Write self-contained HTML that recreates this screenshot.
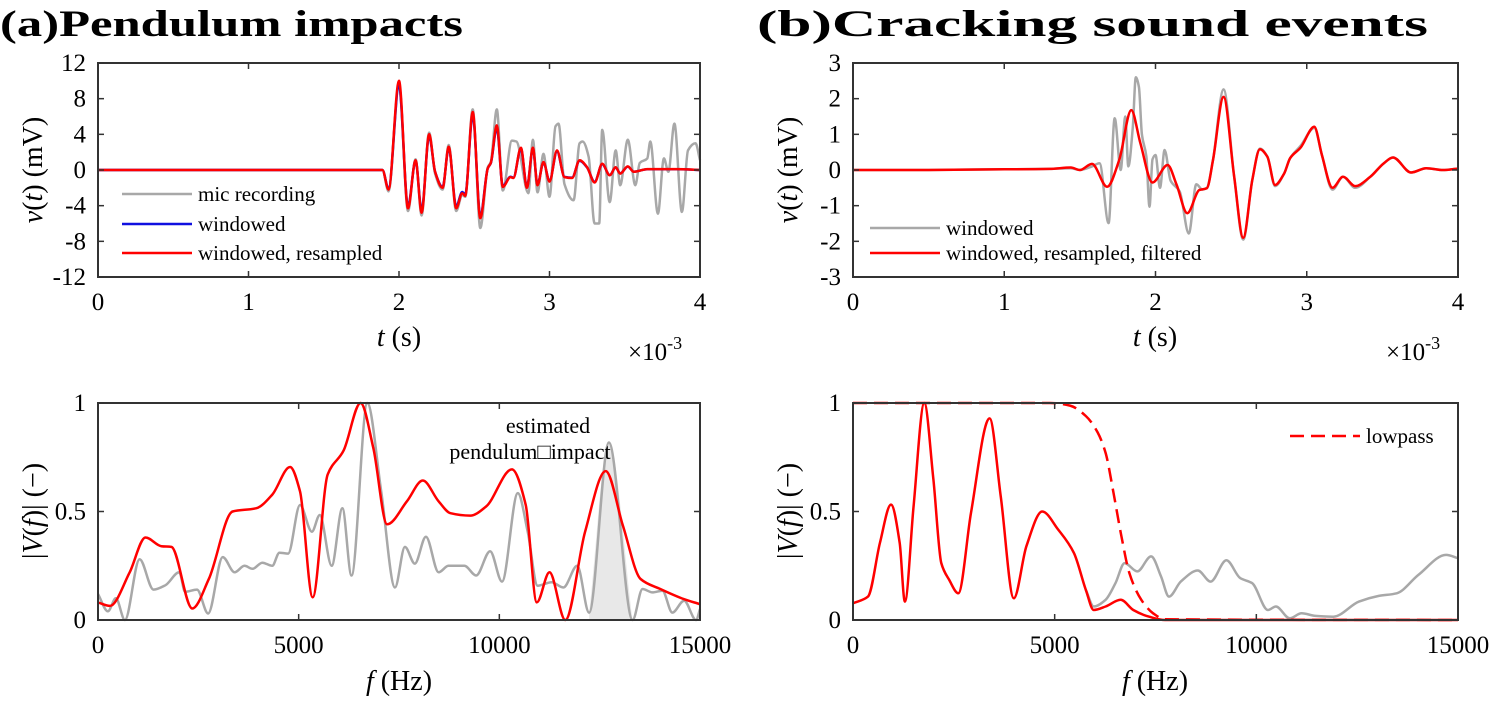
<!DOCTYPE html>
<html><head><meta charset="utf-8">
<style>
body{margin:0;background:#fff;}
svg{display:block;font-family:"Liberation Serif",serif;}
</style></head>
<body>
<svg id="fig" width="1494" height="701" viewBox="0 0 1494 701" xmlns="http://www.w3.org/2000/svg">
<text x="0" y="36" font-size="37" font-weight="bold" textLength="463" lengthAdjust="spacingAndGlyphs">(a)Pendulum impacts</text>
<text x="757" y="36" font-size="37" font-weight="bold" textLength="671" lengthAdjust="spacingAndGlyphs">(b)Cracking sound events</text>
</svg>
<script>
// ---------- Data ----------
const aTopTicksY=[12,8,4,0,-4,-8,-12];
const aTopTicksYLabels=["12","8","4","0","-4","-8","-12"];
const bTopTicksY=[3,2,1,0,-1,-2,-3];
const timeTicks=[0,1,2,3,4];
const freqTicks=[0,5000,10000,15000];
const magTicks=[0,0.5,1];
const magTickLabels=["0","0.5","1"];

const aRedT=[0,1.89,1.93,2.0,2.06,2.11,2.15,2.2,2.24,2.29,2.33,2.38,2.42,2.44,2.49,2.54,2.59,2.61,2.65,2.69,2.74,2.76,2.81,2.85,2.89,2.92,2.96,3.0,3.05,3.1,3.15,3.2,3.25,3.3,3.35,3.4,3.44,3.47,3.52,3.56,3.65,3.75,3.85,4.0];
const aRedV=[0,0,-2.2,10,-4.3,1.1,-4.8,4.0,-0.2,-2.0,2.6,-4.3,-2.6,-2.9,6.5,-5.4,0.2,0.8,5.0,-1.9,-0.8,-0.9,2.5,-2.0,2.5,-1.7,0.9,-1.3,2.2,-0.8,-0.9,1.1,0.3,-1.4,0.7,-0.6,0.3,-0.4,0.4,-0.2,0.1,0.1,0.1,0];
const aMicT=[0,1.89,1.93,2.0,2.06,2.11,2.15,2.2,2.24,2.29,2.33,2.38,2.42,2.44,2.49,2.54,2.59,2.61,2.65,2.69,2.75,2.78,2.86,2.89,2.92,2.96,3.0,3.04,3.06,3.1,3.16,3.2,3.22,3.26,3.3,3.33,3.35,3.4,3.44,3.47,3.52,3.57,3.6,3.65,3.67,3.72,3.76,3.79,3.83,3.88,3.92,3.97,4.0];
const aMicV=[0,0,-2.4,9.5,-4.6,1.2,-5.1,4.2,-0.4,-2.2,2.8,-4.6,-2.8,-3.0,6.8,-6.5,0.3,0.9,6.8,-2.3,3.3,3.2,-2.6,3.4,-2.5,1.8,-3.0,4.9,5.2,-1.6,-3.4,3.0,3.2,1.5,-6.0,-6.0,4.5,-3.6,2.2,-1.7,3.4,-1.7,0.8,1.3,3.2,-4.9,1.3,-0.2,5.2,-4.7,2.2,3.0,1.1];

const bRedT=[0,0.5,1.0,1.3,1.44,1.5,1.58,1.68,1.76,1.84,1.9,1.98,2.08,2.14,2.21,2.29,2.34,2.38,2.45,2.52,2.58,2.64,2.69,2.74,2.79,2.85,2.89,2.96,3.05,3.10,3.17,3.24,3.32,3.42,3.51,3.57,3.69,3.79,3.90,4.0];
const bRedV=[0,0,0.02,0.03,0.07,0,0.17,-0.47,0.28,1.68,0.75,-0.35,0.14,-0.42,-1.21,-0.56,-0.51,0.28,2.05,-0.19,-1.9,-0.28,0.58,0.37,-0.42,-0.1,0.33,0.63,1.21,0.42,-0.5,-0.19,-0.45,-0.19,0.19,0.35,-0.07,0.05,0,0.04];
const bWinT=[0,0.5,1.0,1.3,1.44,1.5,1.58,1.63,1.69,1.73,1.77,1.80,1.82,1.85,1.87,1.89,1.91,1.94,1.96,1.98,2.0,2.03,2.06,2.10,2.16,2.22,2.27,2.31,2.34,2.38,2.45,2.52,2.58,2.64,2.69,2.74,2.79,2.85,2.89,2.96,3.05,3.10,3.17,3.24,3.32,3.42,3.51,3.57,3.69,3.79,3.90,4.0];
const bWinV=[0,0,0.02,0.03,0.05,0,0.1,0.19,-1.49,1.45,0,1.5,0.1,1.2,2.6,2.33,1.0,0.37,-1.03,0.3,0.42,-0.5,0.56,-0.3,-0.6,-1.78,-0.4,-0.55,-0.5,0.28,2.26,-0.19,-1.95,-0.28,0.6,0.37,-0.45,-0.1,0.33,0.68,1.18,0.42,-0.55,-0.19,-0.5,-0.19,0.19,0.35,-0.07,0.05,0,0.04];

const aMagRedF=[0,296,789,1184,1579,1826,2349,2763,3355,3947,4342,4786,5033,5349,5723,6118,6543,6858,7204,7697,8092,8487,8783,9276,9671,10312,10657,10934,11249,11644,12137,12650,13075,13519,14012,14605,15000];
const aMagRedM=[0.081,0.065,0.22,0.38,0.34,0.337,0.053,0.19,0.5,0.515,0.578,0.705,0.593,0.104,0.671,0.78,1.0,0.795,0.441,0.547,0.643,0.547,0.492,0.481,0.523,0.694,0.531,0.081,0.22,0,0.407,0.686,0.438,0.189,0.143,0.096,0.073];
const aMagMicF=[0,247,444,671,1036,1382,1678,2023,2171,2467,2743,3108,3404,3651,3849,4095,4342,4520,4737,5033,5329,5526,5822,6089,6316,6710,7056,7401,7648,7894,8171,8487,8734,9128,9424,9770,10066,10460,10707,10954,11299,11595,11940,12236,12729,13321,13568,13815,14062,14309,14605,14901,15000];
const aMagMicM=[0.12,0.04,0.1,0,0.28,0.14,0.16,0.22,0.13,0.14,0.03,0.29,0.22,0.25,0.236,0.264,0.25,0.31,0.306,0.53,0.407,0.484,0.25,0.515,0.205,1.0,0.593,0.15,0.337,0.26,0.384,0.22,0.25,0.25,0.205,0.317,0.177,0.585,0.407,0.158,0.174,0.15,0.25,0.034,0.818,0,0.143,0.127,0.135,0.034,0.089,0,0.05];
const impactBand=[12236,13321];

const bMagRedF=[0,373,668,942,1158,1286,1502,1767,1993,2189,2385,2611,2925,3387,3662,3986,4300,4692,5085,5478,5772,5969,6263,6636,6950,7343,7736,15000];
const bMagRedM=[0.077,0.108,0.355,0.532,0.355,0.085,0.525,1.0,0.648,0.262,0.185,0.123,0.494,0.929,0.571,0.1,0.34,0.5,0.417,0.309,0.139,0.046,0.062,0.093,0.046,0.015,0,0];
const bMagWinF=[5772,5969,6263,6508,6734,7049,7392,7638,7834,8128,8550,8865,9257,9601,9895,10288,10484,10828,11122,11466,11908,12546,13037,13479,14019,14706,15000];
const bMagWinM=[0.139,0.062,0.093,0.17,0.262,0.224,0.293,0.2,0.108,0.177,0.228,0.177,0.275,0.193,0.17,0.046,0.062,0.008,0.031,0.019,0.015,0.085,0.111,0.123,0.208,0.3,0.285];
const lowpassF=[0,4889,5380,5772,6067,6263,6459,6655,6852,7147,7441,7736,15000];
const lowpassM=[1,1,0.988,0.94,0.864,0.77,0.586,0.386,0.216,0.093,0.031,0.003,0];

// ---------- Drawing ----------
const NS="http://www.w3.org/2000/svg";
const svg=document.getElementById('fig');
function mk(tag,attrs,parent){const e=document.createElementNS(NS,tag);for(const k in attrs)e.setAttribute(k,attrs[k]);(parent||svg).appendChild(e);return e;}
function scale(d0,d1,p0,p1){return v=>p0+(v-d0)/(d1-d0)*(p1-p0);}
// monotone cubic (Fritsch-Carlson) in pixel space
function smoothPath(xs,ys,sx,sy){
  const X=xs.map(sx),Y=ys.map(sy),n=X.length;
  const d=[],m=new Array(n);
  for(let i=0;i<n-1;i++)d.push((Y[i+1]-Y[i])/(X[i+1]-X[i]));
  m[0]=d[0];m[n-1]=d[n-2];
  for(let i=1;i<n-1;i++){
    if(d[i-1]*d[i]<=0)m[i]=0;
    else{const w1=2*(X[i+1]-X[i])+(X[i]-X[i-1]),w2=(X[i+1]-X[i])+2*(X[i]-X[i-1]);m[i]=(w1+w2)/(w1/d[i-1]+w2/d[i]);}
  }
  let p=`M${X[0].toFixed(1)},${Y[0].toFixed(1)}`;
  for(let i=0;i<n-1;i++){
    const h=(X[i+1]-X[i])/3;
    p+=`C${(X[i]+h).toFixed(1)},${(Y[i]+m[i]*h).toFixed(1)} ${(X[i+1]-h).toFixed(1)},${(Y[i+1]-m[i+1]*h).toFixed(1)} ${X[i+1].toFixed(1)},${Y[i+1].toFixed(1)}`;
  }
  return p;
}
function axesBox(g,L,T,R,B,xt,sx,xl,yt,sy,yl,namePrefix){
  mk('rect',{x:L,y:T,width:R-L,height:B-T,fill:'none',stroke:'#333','stroke-width':2},g);
  xt.forEach((v,i)=>{const x=sx(v);
    mk('line',{x1:x,y1:B,x2:x,y2:B-6,stroke:'#333','stroke-width':1.5},g);
    mk('line',{x1:x,y1:T,x2:x,y2:T+6,stroke:'#333','stroke-width':1.5},g);
    const t=mk('text',{x:x,y:B+33,'font-size':25,'text-anchor':'middle'},g);t.textContent=xl[i];
    
    
  });
  yt.forEach((v,i)=>{const y=sy(v);
    mk('line',{x1:L,y1:y,x2:L+6,y2:y,stroke:'#333','stroke-width':1.5},g);
    mk('line',{x1:R,y1:y,x2:R-6,y2:y,stroke:'#333','stroke-width':1.5},g);
    const t=mk('text',{x:L-12,y:y+8,'font-size':25,'text-anchor':'end'},g);t.textContent=yl[i];
    
    
  });
}
function line(g,xs,ys,sx,sy,color,w,name,dash){
  const p=mk('path',{d:smoothPath(xs,ys,sx,sy),fill:'none',stroke:color,'stroke-width':w,'stroke-linejoin':'round'},g);
  if(dash)p.setAttribute('stroke-dasharray',dash);
  
  
  return p;
}
function label(g,x,y,html,rot,name){
  const t=mk('text',{x:x,y:y,'font-size':28,'text-anchor':'middle'},g);
  if(rot)t.setAttribute('transform',`rotate(-90 ${x} ${y})`);
  t.innerHTML=html;
  
  
}
function legendEntry(g,x,y,color,txt,name,dash){
  const l=mk('line',{x1:x,y1:y,x2:x+70,y2:y,stroke:color,'stroke-width':2.5},g);
  if(dash)l.setAttribute('stroke-dasharray',dash);
  const t=mk('text',{x:x+76,y:y+7,'font-size':21},g);t.textContent=txt;
  
  
  
  
}

// Panel A top
{
  const g=mk('g',{});
  
  
  const L=98,R=700,T=63,B=277;
  const sx=scale(0,4,L,R), sy=scale(-12,12,B,T);
  line(g,aMicT,aMicV,sx,sy,'#a8a8a8',2.5,'mic-recording-line');
  line(g,aRedT,aRedV.map(v=>v*0.95),sx,sy,'#1010e0',2.5,'windowed-line');
  line(g,aRedT,aRedV,sx,sy,'#f00',2.5,'windowed-resampled-line');
  axesBox(g,L,T,R,B,timeTicks,sx,timeTicks.map(String),aTopTicksY,sy,aTopTicksYLabels,'a-top');
  legendEntry(g,122,194,'#a8a8a8','mic recording','legend-mic-recording');
  legendEntry(g,122,224,'#1010e0','windowed','legend-windowed');
  legendEntry(g,122,253,'#f00','windowed, resampled','legend-windowed-resampled');
  label(g,399,346,'<tspan font-style="italic">t</tspan> (s)',false,'a-x-axis-title');
  label(g,42,170,'<tspan font-style="italic">v</tspan>(<tspan font-style="italic">t</tspan>) (mV)',true,'a-y-axis-title');
  const e=mk('text',{x:628,y:360,'font-size':25},g);e.innerHTML='×10<tspan dy="-11" font-size="18">-3</tspan>';
  
  
}
// Panel B top
{
  const g=mk('g',{});
  
  
  const L=853,R=1458,T=63,B=277;
  const sx=scale(0,4,L,R), sy=scale(-3,3,B,T);
  line(g,bWinT,bWinV,sx,sy,'#a8a8a8',2.5,'windowed-line-b');
  line(g,bRedT,bRedV,sx,sy,'#f00',2.5,'filtered-line-b');
  axesBox(g,L,T,R,B,timeTicks,sx,timeTicks.map(String),bTopTicksY,sy,bTopTicksY.map(String),'b-top');
  legendEntry(g,870,228,'#a8a8a8','windowed','legend-windowed-b');
  legendEntry(g,870,253,'#f00','windowed, resampled, filtered','legend-filtered-b');
  label(g,1155,346,'<tspan font-style="italic">t</tspan> (s)',false,'b-x-axis-title');
  label(g,797,170,'<tspan font-style="italic">v</tspan>(<tspan font-style="italic">t</tspan>) (mV)',true,'b-y-axis-title');
  const e=mk('text',{x:1386,y:360,'font-size':25},g);e.innerHTML='×10<tspan dy="-11" font-size="18">-3</tspan>';
  
  
}
// Panel A bottom
{
  const g=mk('g',{});
  
  
  const L=98,R=700,T=403,B=620;
  const sx=scale(0,15000,L,R), sy=scale(0,1,B,T);
  const bf=[],bm=[];
  aMagMicF.forEach((f,i)=>{if(f>=impactBand[0]&&f<=impactBand[1]){bf.push(f);bm.push(aMagMicM[i]);}});
  const d=smoothPath(bf,bm,sx,sy)+`L${sx(impactBand[1])},${B}L${sx(impactBand[0])},${B}Z`;
  const sh=mk('path',{d:d,fill:'#e8e8e8',stroke:'none'},g);
  
  
  line(g,aMagMicF,aMagMicM,sx,sy,'#a8a8a8',2.5,'mic-spectrum-line');
  line(g,aMagRedF,aMagRedM,sx,sy,'#f00',2.5,'resampled-spectrum-line');
  axesBox(g,L,T,R,B,freqTicks,sx,freqTicks.map(String),magTicks,sy,magTickLabels,'a-bottom');
  const a1=mk('text',{x:548,y:433,'font-size':22,'text-anchor':'middle'},g);a1.textContent='estimated';
  
  
  const a2=mk('text',{x:530,y:459,'font-size':22,'text-anchor':'middle'},g);a2.textContent='pendulum\u25A1impact';
  
  
  label(g,399,690,'<tspan font-style="italic">f</tspan> (Hz)',false,'a-freq-axis-title');
  label(g,42,511,'|<tspan font-style="italic">V</tspan>(<tspan font-style="italic">f</tspan>)| (−)',true,'a-mag-axis-title');
}
// Panel B bottom
{
  const g=mk('g',{});
  
  
  const L=853,R=1458,T=403,B=620;
  const sx=scale(0,15000,L,R), sy=scale(0,1,B,T);
  line(g,bMagWinF,bMagWinM,sx,sy,'#a8a8a8',2.5,'windowed-spectrum-line-b');
  line(g,bMagRedF,bMagRedM,sx,sy,'#f00',2.5,'filtered-spectrum-line-b');
  line(g,lowpassF,lowpassM,sx,sy,'#f00',2.5,'lowpass-line','14,7');
  axesBox(g,L,T,R,B,freqTicks,sx,freqTicks.map(String),magTicks,sy,magTickLabels,'b-bottom');
  legendEntry(g,1290,436,'#f00','lowpass','legend-lowpass','14,7');
  label(g,1155,690,'<tspan font-style="italic">f</tspan> (Hz)',false,'b-freq-axis-title');
  label(g,797,511,'|<tspan font-style="italic">V</tspan>(<tspan font-style="italic">f</tspan>)| (−)',true,'b-mag-axis-title');
}
</script>
</body></html>
